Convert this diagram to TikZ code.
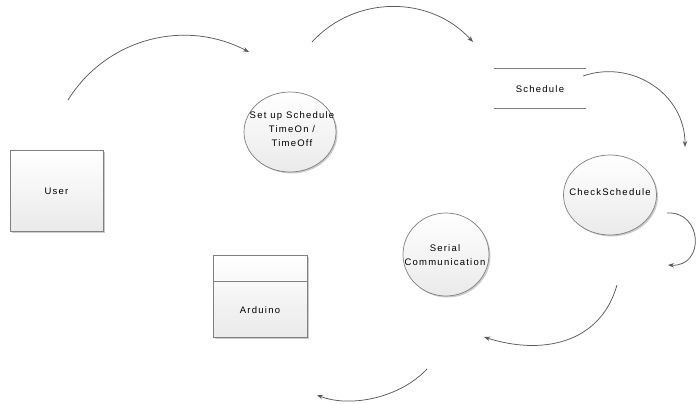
\documentclass[tikz,border=0pt]{standalone}
\usepackage{fontspec}
\setmainfont{Liberation Sans}[LetterSpace=13]
\usetikzlibrary{shapes.geometric,shadows,arrows.meta}
\definecolor{edgegray}{HTML}{808080}
\definecolor{arrowgray}{HTML}{5A5A5A}
\definecolor{fillbot}{HTML}{EAEAEA}
\begin{document}
\begin{tikzpicture}[x=1pt,y=-1pt,
  every node/.style={font=\fontsize{9.5}{14}\selectfont},
  shadowed/.style={drop shadow={shadow xshift=1.5pt,shadow yshift=-1.5pt,opacity=0.2,fill=black}},
  entity/.style={draw=edgegray,line width=0.7pt,rectangle,top color=white,bottom color=fillbot,shadowed,inner sep=0pt},
  process/.style={draw=edgegray,line width=0.7pt,ellipse,top color=white,bottom color=fillbot,shadowed,inner sep=0pt},
  txt/.style={align=center,inner sep=0pt},
  flow/.style={draw=arrowgray,line width=0.75pt,-{Stealth[length=6pt,width=4.5pt]}},
  store/.style={draw=edgegray,line width=0.9pt}]
\useasboundingbox (0,0) rectangle (697,404);
% entities
\node[entity,minimum width=93pt,minimum height=81pt] (user) at (56.5,191) {};
\node[txt] (usert) at (user) {User};
\node[entity,minimum width=94pt,minimum height=82pt] (ard) at (260,296) {};
\draw[edgegray,line width=0.7pt] ([yshift=-27pt]ard.north west) -- ([yshift=-27pt]ard.north east);
\node[txt] (ardt) at (260,310) {Arduino};
% processes
\node[process,minimum width=92pt,minimum height=80pt] (setup) at (290,132) {};
\node[txt] (setupt) at (292,129) {Set up Schedule\\TimeOn /\\TimeOff};
\node[process,minimum width=93pt,minimum height=80pt] (check) at (610,195) {};
\node[txt] (checkt) at (610,192) {CheckSchedule};
\node[process,minimum width=86pt,minimum height=83pt] (serial) at (446,254.5) {};
\node[txt] (serialt) at (445,255) {Serial\\Communication};
% data store
\coordinate (s1) at (494,68.5);
\coordinate (s2) at (586,68.5);
\coordinate (s3) at (494,108);
\coordinate (s4) at (586,108);
\draw[store] (s1) -- (s2);
\draw[store] (s3) -- (s4);
\node[txt] (schedt) at (540,89) {Schedule};
% flows
\coordinate (a1s) at (68,100);   \coordinate (a1e) at (249,52);
\coordinate (a2s) at (312,42);   \coordinate (a2e) at (473,42);
\coordinate (a3s) at (583,76);   \coordinate (a3e) at (685,147);
\coordinate (a4s) at (667,213);  \coordinate (a4e) at (668,265);
\coordinate (a5s) at (617,285);  \coordinate (a5e) at (484,337);
\coordinate (a6s) at (427,369);  \coordinate (a6e) at (317,395);
\draw[flow] (a1s) .. controls (106,39) and (184,18) .. (a1e);
\draw[flow] (a2s) .. controls (355,-5) and (430,-5) .. (a2e);
\draw[flow] (a3s) .. controls (632,59) and (685,94) .. (a3e);
\draw[flow] (a4s) .. controls (703,211) and (705,267) .. (a4e);
\draw[flow] (a5s) .. controls (600,345) and (540,355) .. (a5e);
\draw[flow] (a6s) .. controls (400,398) and (350,408) .. (a6e);
\end{tikzpicture}
\end{document}
